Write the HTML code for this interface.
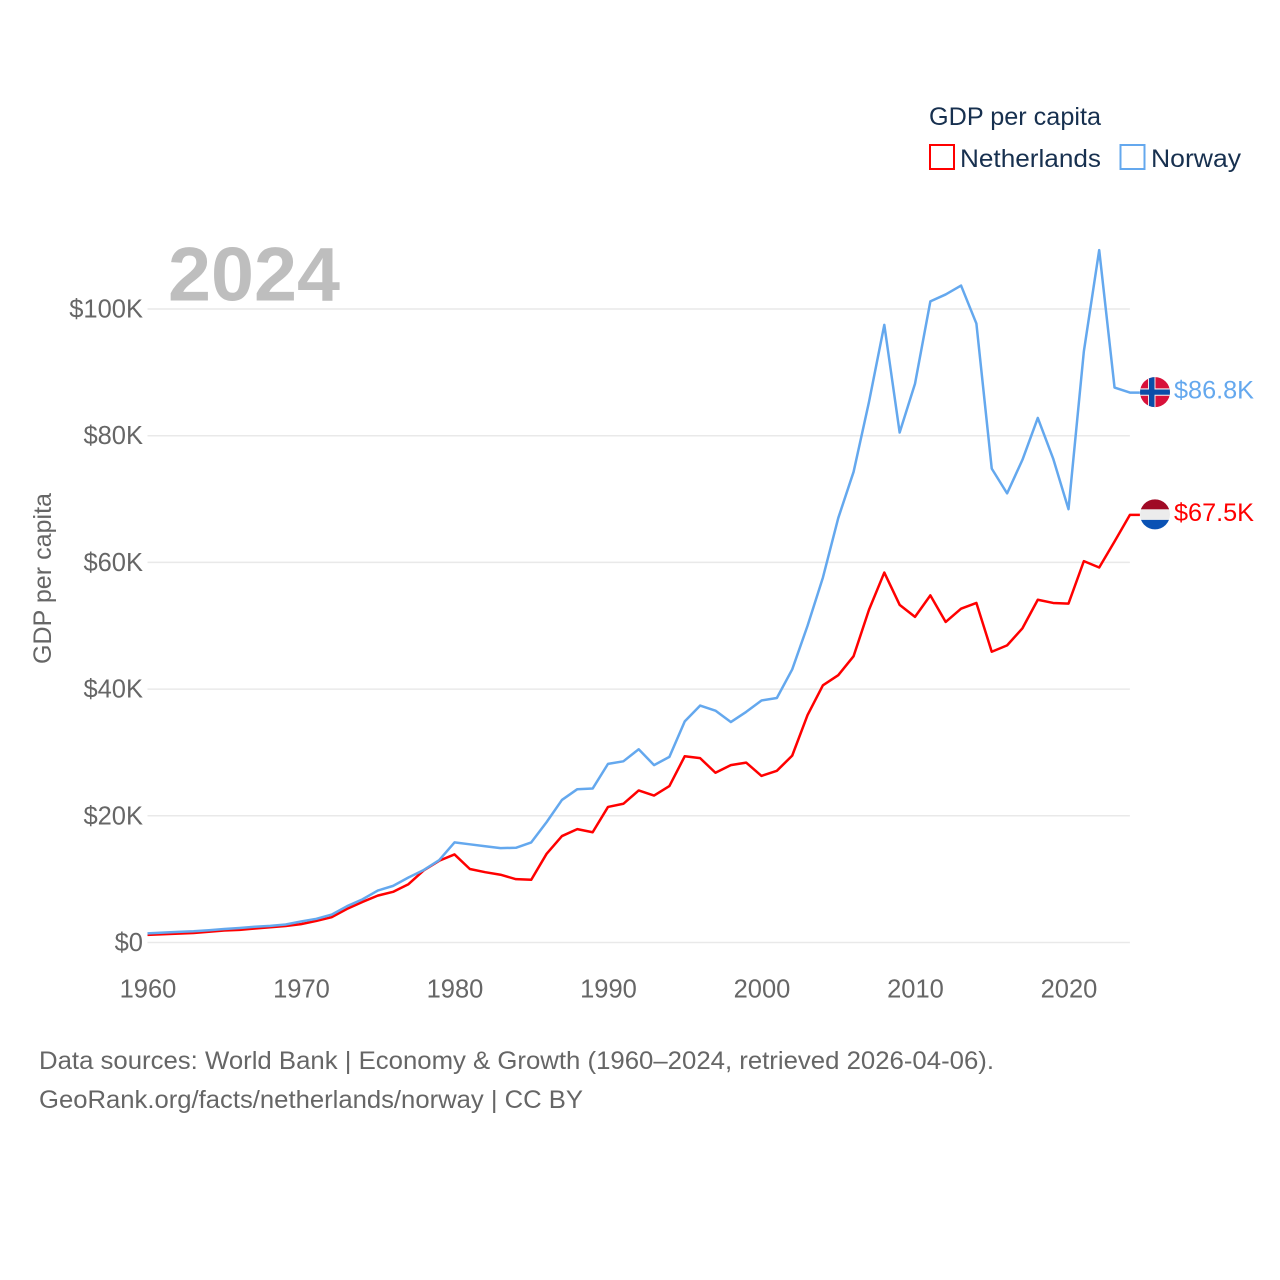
<!DOCTYPE html>
<html lang="en">
<head>
<meta charset="utf-8">
<title>GDP per capita: Netherlands and Norway</title>
<style>
  html, body { margin: 0; padding: 0; background: #fff; }
  svg { display: block; font-family: "Liberation Sans", sans-serif; }
</style>
</head>
<body>
<svg id="chart" width="1280" height="1280" viewBox="0 0 1280 1280" xmlns="http://www.w3.org/2000/svg">
  <defs>
    <clipPath id="flag-clip"><circle cx="0" cy="0" r="15"></circle></clipPath>
  </defs>
  <rect x="0" y="0" width="1280" height="1280" fill="#ffffff"></rect>

  <g id="grid"></g>
  <g id="y-ticks"></g>
  <g id="x-ticks"></g>

  <text x="168" y="300.5" font-size="76" font-weight="700" fill="#bebebe" textLength="172" lengthAdjust="spacingAndGlyphs">2024</text>

  <text transform="translate(51,664) rotate(-90)" font-size="25" fill="#666666" textLength="171" lengthAdjust="spacingAndGlyphs">GDP per capita</text>

  <g id="series"></g>

  <g id="flag-norway">
    <g clip-path="url(#flag-clip)">
      <rect x="-15" y="-16" width="30" height="32" fill="#d8113a"></rect>
      <rect x="-7" y="-16" width="7.5" height="32" fill="#f3e6e8"></rect>
      <rect x="-15" y="-3.8" width="30" height="7.5" fill="#f3e6e8"></rect>
      <rect x="-6" y="-16" width="5.5" height="32" fill="#0a4da8"></rect>
      <rect x="-15" y="-2.6" width="30" height="5.2" fill="#0a4da8"></rect>
    </g>
  </g>
  <g id="flag-netherlands">
    <g clip-path="url(#flag-clip)">
      <rect x="-15" y="-16" width="30" height="11" fill="#a00a26"></rect>
      <rect x="-15" y="-5" width="30" height="10.5" fill="#ececec"></rect>
      <rect x="-15" y="5.5" width="30" height="11" fill="#0a52b4"></rect>
    </g>
  </g>

  <text id="label-norway" x="1174" font-size="25" fill="#64a8ee" textLength="80" lengthAdjust="spacingAndGlyphs"></text>
  <text id="label-netherlands" x="1174" font-size="25" fill="#ff0000" textLength="80" lengthAdjust="spacingAndGlyphs"></text>

  <g>
    <text x="929" y="125" font-size="25" fill="#17304f" textLength="172" lengthAdjust="spacingAndGlyphs">GDP per capita</text>
    <g>
      <rect x="930" y="145" width="24" height="24" fill="#ffffff" stroke="#ff0000" stroke-width="2"></rect>
      <text x="960" y="167" font-size="25" fill="#17304f" textLength="141" lengthAdjust="spacingAndGlyphs">Netherlands</text>
    </g>
    <g>
      <rect x="1120.5" y="145" width="24" height="24" fill="#ffffff" stroke="#64a8ee" stroke-width="2"></rect>
      <text x="1151" y="167" font-size="25" fill="#17304f" textLength="90" lengthAdjust="spacingAndGlyphs">Norway</text>
    </g>
  </g>

  <text x="39" y="1069" font-size="25" fill="#666666" textLength="955" lengthAdjust="spacingAndGlyphs">Data sources: World Bank | Economy &amp; Growth (1960–2024, retrieved 2026-04-06).</text>
  <text x="39" y="1108" font-size="25" fill="#666666" textLength="544" lengthAdjust="spacingAndGlyphs">GeoRank.org/facts/netherlands/norway | CC BY</text>
</svg>

<script>
const years = [1960,1961,1962,1963,1964,1965,1966,1967,1968,1969,1970,1971,1972,1973,1974,1975,1976,1977,1978,1979,1980,1981,1982,1983,1984,1985,1986,1987,1988,1989,1990,1991,1992,1993,1994,1995,1996,1997,1998,1999,2000,2001,2002,2003,2004,2005,2006,2007,2008,2009,2010,2011,2012,2013,2014,2015,2016,2017,2018,2019,2020,2021,2022,2023,2024];
const netherlandsValues = [1.2,1.3,1.4,1.5,1.7,1.9,2.0,2.2,2.4,2.6,2.9,3.4,4.0,5.3,6.4,7.4,8.0,9.2,11.4,12.9,13.9,11.6,11.1,10.7,10.0,9.9,14.0,16.8,17.9,17.4,21.4,21.9,24.0,23.2,24.7,29.4,29.1,26.8,28.0,28.4,26.3,27.1,29.5,35.9,40.6,42.2,45.2,52.5,58.4,53.3,51.4,54.8,50.6,52.7,53.6,45.9,46.9,49.6,54.1,53.6,53.5,60.2,59.2,63.3,67.5];
const norwayValues = [1.44,1.56,1.67,1.77,1.93,2.13,2.28,2.48,2.62,2.84,3.31,3.74,4.4,5.73,6.81,8.2,8.94,10.26,11.45,13.0,15.8,15.5,15.2,14.9,14.95,15.8,19.0,22.5,24.2,24.3,28.2,28.6,30.5,28.0,29.3,34.9,37.4,36.6,34.8,36.4,38.2,38.6,43.1,50.0,57.6,67.0,74.3,85.3,97.5,80.5,88.2,101.2,102.3,103.7,97.7,74.8,70.9,76.2,82.8,76.4,68.4,93.3,109.3,87.6,86.8];
const yTickValues = [0,20,40,60,80,100];
const yTickLabels = ["$0","$20K","$40K","$60K","$80K","$100K"];
const xTickValues = [1960,1970,1980,1990,2000,2010,2020];

const SVG_NS = "http://www.w3.org/2000/svg";

function xScale(year) {
  return 147.5 + (year - 1960) * (1068.5 - 147.5) / 60;
}
function yScale(value) {
  return 942.5 - value * (942.5 - 309) / 100;
}
function formatValue(value) {
  return "$" + value.toFixed(1) + "K";
}

const gridGroup = document.getElementById("grid");
const yTickGroup = document.getElementById("y-ticks");
const xTickGroup = document.getElementById("x-ticks");
const seriesGroup = document.getElementById("series");

yTickValues.forEach(function (value, i) {
  const line = document.createElementNS(SVG_NS, "line");
  
  
  line.setAttribute("x1", xScale(1960));
  line.setAttribute("x2", xScale(2024));
  line.setAttribute("y1", yScale(value));
  line.setAttribute("y2", yScale(value));
  line.setAttribute("stroke", "#e9e9e9");
  line.setAttribute("stroke-width", 1.5);
  gridGroup.appendChild(line);

  const label = document.createElementNS(SVG_NS, "text");
  
  
  label.setAttribute("x", 143);
  label.setAttribute("y", yScale(value) + 8.5);
  label.setAttribute("text-anchor", "end");
  label.setAttribute("font-size", 25.5);
  label.setAttribute("fill", "#666666");
  label.textContent = yTickLabels[i];
  yTickGroup.appendChild(label);
});

xTickValues.forEach(function (year) {
  const label = document.createElementNS(SVG_NS, "text");
  
  
  label.setAttribute("x", xScale(year) + 0.5);
  label.setAttribute("y", 997.5);
  label.setAttribute("text-anchor", "middle");
  label.setAttribute("font-size", 25.5);
  label.setAttribute("fill", "#666666");
  label.textContent = String(year);
  xTickGroup.appendChild(label);
});

// Each series ends in a short horizontal connector running to its flag.
function linePath(values) {
  const points = values.map(function (value, i) {
    return (i === 0 ? "M" : "L") + xScale(years[i]).toFixed(2) + " " + yScale(value).toFixed(2);
  });
  const last = values[values.length - 1];
  points.push("L" + (xScale(years[years.length - 1]) + 10).toFixed(2) + " " + yScale(last).toFixed(2));
  return points.join(" ");
}

const netherlandsLine = document.createElementNS(SVG_NS, "path");


netherlandsLine.setAttribute("d", linePath(netherlandsValues));
netherlandsLine.setAttribute("fill", "none");
netherlandsLine.setAttribute("stroke", "#ff0000");
netherlandsLine.setAttribute("stroke-width", 2.5);
netherlandsLine.setAttribute("stroke-linejoin", "round");
seriesGroup.appendChild(netherlandsLine);

const norwayLine = document.createElementNS(SVG_NS, "path");


norwayLine.setAttribute("d", linePath(norwayValues));
norwayLine.setAttribute("fill", "none");
norwayLine.setAttribute("stroke", "#64a8ee");
norwayLine.setAttribute("stroke-width", 2.5);
norwayLine.setAttribute("stroke-linejoin", "round");
seriesGroup.appendChild(norwayLine);

const lastNorway = norwayValues[norwayValues.length - 1];
const lastNetherlands = netherlandsValues[netherlandsValues.length - 1];

document.getElementById("flag-norway").setAttribute("transform", "translate(1155," + (yScale(lastNorway) - 0.5) + ")");
document.getElementById("flag-netherlands").setAttribute("transform", "translate(1155," + (yScale(lastNetherlands) - 0.5) + ")");

const norwayLabel = document.getElementById("label-norway");
norwayLabel.setAttribute("y", yScale(lastNorway) + 6);
norwayLabel.textContent = formatValue(lastNorway);

const netherlandsLabel = document.getElementById("label-netherlands");
netherlandsLabel.setAttribute("y", yScale(lastNetherlands) + 6);
netherlandsLabel.textContent = formatValue(lastNetherlands);
</script>
</body>
</html>
